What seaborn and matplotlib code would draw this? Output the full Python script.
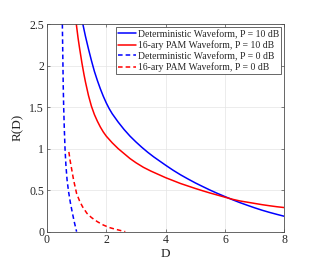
import pandas as pd
import matplotlib
matplotlib.use("Agg")
import matplotlib.pyplot as plt
import seaborn as sns

# values
det_10_D = [1.21, 1.30, 1.40, 1.50, 1.60, 1.70, 1.80, 1.90, 2.00, 2.10, 2.20, 2.40,
            2.60, 2.80, 3.00, 3.20, 3.40, 3.60, 3.80, 4.00, 4.25, 4.50, 4.75, 5.00,
            5.25, 5.50, 5.75, 6.00, 6.25, 6.50, 6.75, 7.00, 7.25, 7.50, 7.75, 8.00]
det_10_R = [2.50, 2.35, 2.20, 2.06, 1.93, 1.82, 1.72, 1.63, 1.55, 1.48, 1.42, 1.32,
            1.23, 1.15, 1.08, 1.015, 0.955, 0.90, 0.85, 0.80, 0.74, 0.685, 0.635, 0.587,
            0.543, 0.50, 0.46, 0.422, 0.385, 0.35, 0.318, 0.287, 0.258, 0.232, 0.208, 0.185]

pam_10_D = [0.99, 1.05, 1.10, 1.18, 1.25, 1.30, 1.40, 1.50, 1.60, 1.70, 1.80, 1.90,
            2.00, 2.20, 2.40, 2.60, 2.80, 3.00, 3.25, 3.50, 3.75, 4.00, 4.25, 4.50,
            4.75, 5.00, 5.25, 5.50, 5.75, 6.00, 6.25, 6.50, 6.75, 7.00, 7.25, 7.50,
            7.75, 8.00]
pam_10_R = [2.50, 2.33, 2.21, 2.03, 1.89, 1.80, 1.64, 1.51, 1.41, 1.33, 1.26, 1.20,
            1.15, 1.07, 1.00, 0.94, 0.88, 0.83, 0.775, 0.73, 0.69, 0.65, 0.615, 0.58,
            0.55, 0.52, 0.492, 0.465, 0.44, 0.415, 0.39, 0.37, 0.355, 0.34, 0.325, 0.312,
            0.30, 0.29]

det_0_D = [0.52, 0.53, 0.54, 0.55, 0.565, 0.585, 0.61, 0.64, 0.68, 0.73, 0.79, 0.85,
           0.92, 0.96, 1.00]
det_0_R = [2.50, 2.25, 2.00, 1.75, 1.50, 1.25, 1.00, 0.80, 0.62, 0.48, 0.35, 0.24,
           0.12, 0.06, 0.00]

pam_0_D = [0.74, 0.78, 0.83, 0.90, 1.00, 1.10, 1.20, 1.35, 1.50, 1.70, 1.90, 2.10,
           2.30, 2.50, 2.64]
pam_0_R = [0.96, 0.86, 0.76, 0.62, 0.46, 0.37, 0.30, 0.22, 0.17, 0.12, 0.08, 0.05,
           0.03, 0.012, 0.00]

series = [
    ("Deterministic Waveform, P = 10 dB", det_10_D, det_10_R, "#0000ff", "-"),
    ("16-ary PAM Waveform, P = 10 dB", pam_10_D, pam_10_R, "#ff0000", "-"),
    ("Deterministic Waveform, P = 0 dB", det_0_D, det_0_R, "#0000ff", "--"),
    ("16-ary PAM Waveform, P = 0 dB", pam_0_D, pam_0_R, "#ff0000", "--"),
]

sns.set_theme(style="white")
plt.rcParams['font.family'] = ['Liberation Serif', 'DejaVu Serif']

fig = plt.figure(figsize=(3.17, 2.70), dpi=100)
ax = fig.add_axes([0.148, 0.142, 0.749, 0.769])

for label, d, r, color, ls in series:
    df = pd.DataFrame({"D": d, "R": r})
    sns.lineplot(data=df, x="D", y="R", ax=ax, color=color, sort=False,
                 estimator=None, linewidth=1.1, label=label)
    if ls == "--":
        ax.lines[-1].set_dashes((3.0, 2.0))

ax.set_xlim(0, 8)
ax.set_ylim(0, 2.5)
ax.set_xticks([0, 2, 4, 6, 8])
ax.set_yticks([0, 0.5, 1, 1.5, 2, 2.5])
ax.set_yticklabels(["0", "0.5", "1", "1.5", "2", "2.5"])
ax.set_xlabel("D", fontsize=9.5, labelpad=1)
ax.set_ylabel("R(D)", fontsize=9.5, labelpad=4)

ax.grid(True, color="#e4e4e4", linewidth=0.5)
for s in ax.spines.values():
    s.set_color("#4d4d4d")
    s.set_linewidth(0.6)
ax.tick_params(direction="in", length=2.5, width=0.5, colors="#4d4d4d",
               labelcolor="#262626", labelsize=8.5, top=True, right=True,
               bottom=True, left=True, pad=2)

leg = ax.legend(loc="upper right", fontsize=7, frameon=True, fancybox=False,
                edgecolor="#4d4d4d", framealpha=1, handlelength=1.9,
                handletextpad=0.15, borderpad=0.2, labelspacing=0.15,
                borderaxespad=0.35)
leg.get_frame().set_linewidth(0.6)

fig.savefig("out.png", dpi=100, facecolor="white")
